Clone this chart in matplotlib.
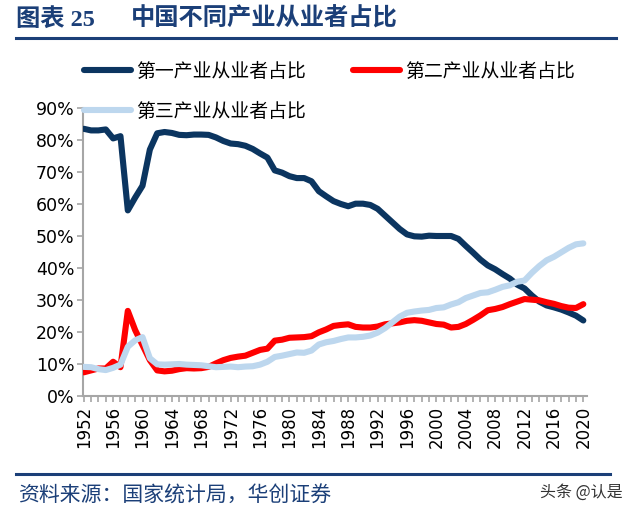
import matplotlib
matplotlib.use("Agg")
import matplotlib.pyplot as plt
import numpy as np

plt.rcParams['font.family'] = ['Noto Sans CJK SC', 'DejaVu Sans']

years = list(range(1952, 2021))
primary = [83.5, 83.0, 83.0, 83.3, 80.5, 81.2, 58.0, 62.0, 65.7, 77.0,
           82.1, 82.5, 82.2, 81.6, 81.5, 81.7, 81.7, 81.6, 80.8, 79.7,
           78.9, 78.7, 78.2, 77.2, 75.8, 74.5, 70.5, 69.8, 68.7, 68.1,
           68.1, 67.1, 64.0, 62.4, 60.9, 60.0, 59.3, 60.1, 60.1, 59.7,
           58.5, 56.4, 54.3, 52.2, 50.5, 49.9, 49.8, 50.1, 50.0, 50.0,
           50.0, 49.1, 46.9, 44.8, 42.6, 40.8, 39.6, 38.1, 36.7, 34.8,
           33.6, 31.4, 29.5, 28.3, 27.7, 27.0, 26.1, 25.1, 23.6]
secondary = [7.4, 8.0, 8.6, 8.6, 10.7, 9.0, 26.6, 20.6, 15.9, 11.2,
             8.0, 7.7, 7.9, 8.4, 8.7, 8.6, 8.7, 9.1, 10.2, 11.2,
             11.9, 12.3, 12.6, 13.5, 14.4, 14.8, 17.3, 17.6, 18.2, 18.3,
             18.4, 18.7, 19.9, 20.8, 21.9, 22.2, 22.4, 21.6, 21.4, 21.4,
             21.7, 22.4, 22.7, 23.0, 23.5, 23.7, 23.5, 23.0, 22.5, 22.3,
             21.4, 21.6, 22.5, 23.8, 25.2, 26.8, 27.2, 27.8, 28.7, 29.5,
             30.3, 30.1, 29.9, 29.3, 28.8, 28.1, 27.6, 27.5, 28.7]
tertiary = [9.1, 9.0, 8.4, 8.1, 8.8, 9.8, 15.4, 17.4, 18.4, 11.8,
            9.9, 9.8, 9.9, 10.0, 9.8, 9.7, 9.6, 9.3, 9.0, 9.1,
            9.2, 9.0, 9.2, 9.3, 9.8, 10.7, 12.2, 12.6, 13.1, 13.6,
            13.5, 14.2, 16.1, 16.8, 17.2, 17.8, 18.3, 18.3, 18.5, 18.9,
            19.8, 21.2, 23.0, 24.8, 26.0, 26.4, 26.7, 26.9, 27.5, 27.7,
            28.6, 29.3, 30.6, 31.4, 32.2, 32.4, 33.2, 34.1, 34.6, 35.7,
            36.1, 38.5, 40.6, 42.4, 43.5, 44.9, 46.3, 47.4, 47.7]
labels = ['第一产业从业者占比', '第二产业从业者占比', '第三产业从业者占比']
title_a = '图表 25'
title_b = '中国不同产业从业者占比'
source = '资料来源：国家统计局，华创证券'
watermark = '头条 @认是'

W, H = 640, 516
fig = plt.figure(figsize=(W / 100, H / 100), dpi=100)
ax = fig.add_axes([83 / W, 1 - 396 / H, (587 - 83) / W, (396 - 108) / H])

c1, c2, c3 = '#0B3560', '#FF0000', '#BDD7EE'
lw = 4.4
l1, = ax.plot(years, np.array(primary) / 100, color=c1, lw=lw, solid_capstyle='round', zorder=3)
l2, = ax.plot(years, np.array(secondary) / 100, color=c2, lw=lw, solid_capstyle='round', zorder=3)
l3, = ax.plot(years, np.array(tertiary) / 100, color=c3, lw=lw, solid_capstyle='round', zorder=3)

ax.set_ylim(0, 0.9)
ax.set_xlim(1951.9, 2020.5)
yt = np.arange(0, 0.91, 0.1)
ax.set_yticks(yt)
ax.set_yticklabels([f'{int(round(v * 100))}%' for v in yt], fontsize=12.5, family='DejaVu Sans')
xt = list(range(1952, 2021, 4))
ax.set_xticks(xt)
ax.set_xticklabels([str(v) for v in xt], rotation=90, fontsize=12, family='DejaVu Sans')
ax.set_xticks(years, minor=True)
for s in ['top', 'right']:
    ax.spines[s].set_visible(False)
for s in ['left', 'bottom']:
    ax.spines[s].set_color('#A6A6A6')
    ax.spines[s].set_linewidth(1.5)
ax.tick_params(axis='both', which='both', color='#A6A6A6', width=1.2, length=4, direction='out')
ax.tick_params(axis='x', which='major', pad=3)
ax.tick_params(axis='y', pad=2)
ax.patch.set_visible(False)

leg = fig.legend([l1, l3, l2], [labels[0], labels[2], labels[1]], ncol=2,
                 loc='upper left', bbox_to_anchor=(84 / W, 1 - 61 / H),
                 frameon=False, fontsize=13.6, handlelength=2.5, handletextpad=0.25,
                 columnspacing=2.5, labelspacing=1.0, borderpad=0, borderaxespad=0)
leg.set_zorder(5)
for lh in leg.get_lines():
    lh.set_linewidth(lw)
    lh.set_solid_capstyle('round')

fig.text(16 / W, 1 - 19 / H, title_a, fontsize=17.5, fontweight='bold', color='#1B3F78',
         va='center', ha='left', family=['Liberation Serif', 'Noto Sans CJK SC'])
fig.text(131 / W, 1 - 19 / H, title_b, fontsize=17.5, fontweight='bold', color='#1B3F78',
         va='center', ha='left')
fig.add_artist(plt.Line2D([16 / W, 616 / W], [1 - 38 / H, 1 - 38 / H], color='#1B3F78', lw=2.2))
fig.add_artist(plt.Line2D([16 / W, 610 / W], [1 - 474 / H, 1 - 474 / H], color='#1B3F78', lw=2.2))
fig.text(18 / W, 1 - 496 / H, source, fontsize=15, color='#1B3F78', va='center', ha='left', style='italic')
fig.text(540 / W, 1 - 492 / H, watermark, fontsize=11.5, color='#333333', va='center', ha='left')

fig.savefig('out.png', dpi=100)
